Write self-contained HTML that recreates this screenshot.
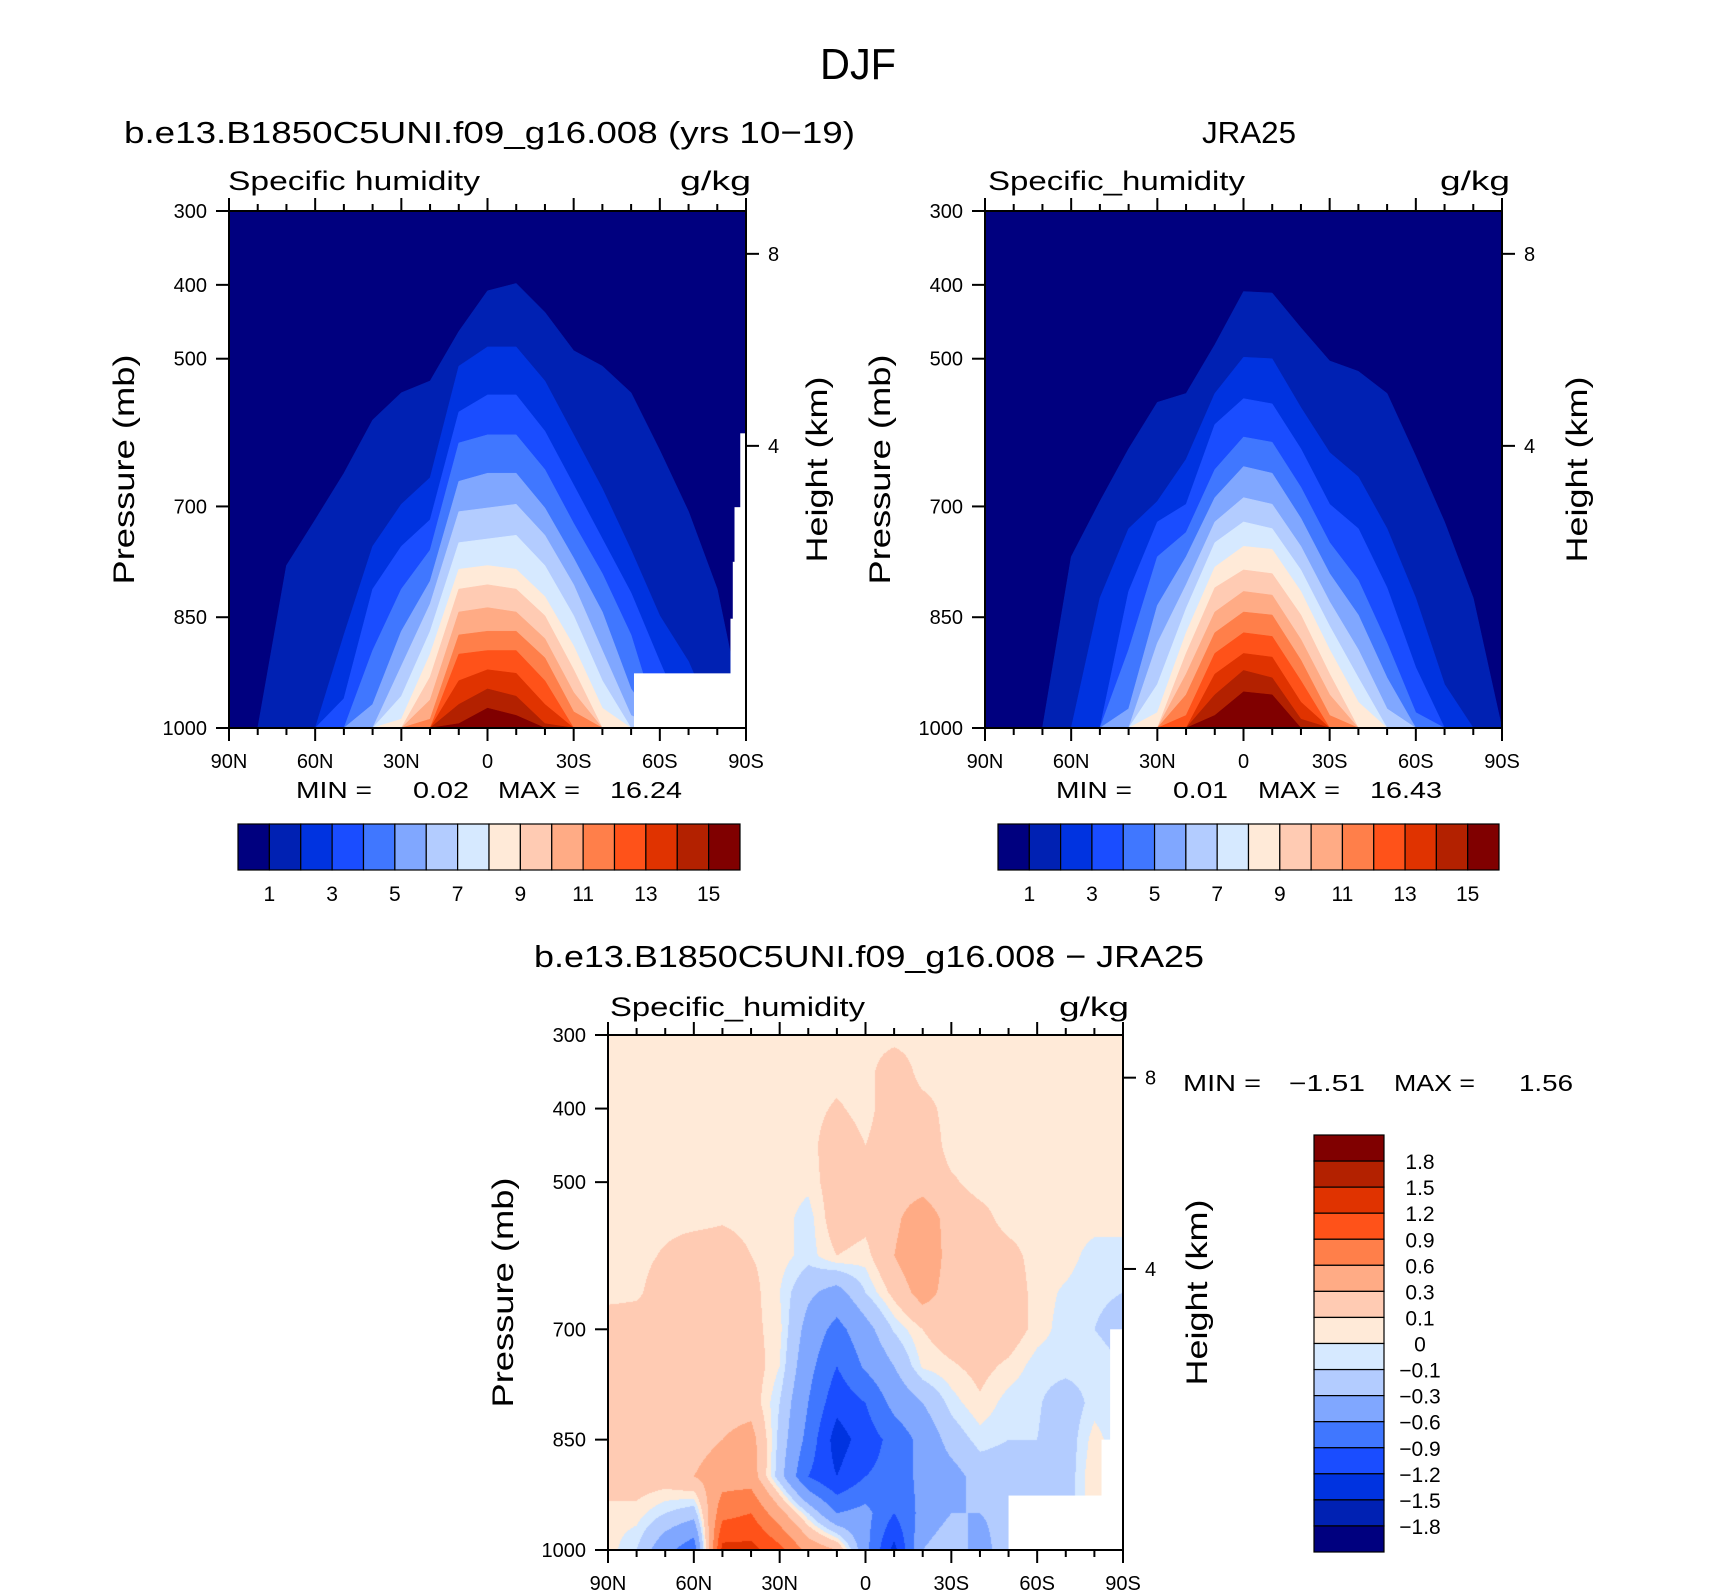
<!DOCTYPE html>
<html><head><meta charset="utf-8">
<style>
html,body{margin:0;padding:0;background:#fff;}
#wrap{position:relative;width:1710px;height:1596px;overflow:hidden;}
#wrap canvas{position:absolute;left:608px;top:1035px;}
svg{position:absolute;left:0;top:0;}
text{font-family:"Liberation Sans",sans-serif;fill:#000;}
</style></head>
<body>
<div id="wrap">
<svg id="svg" width="1710" height="1596" viewBox="0 0 1710 1596">
<g id="fillL"></g>
<g id="fillR"></g>
<g id="fillB"></g>
<g id="axes"></g>
<text x="858" y="79" font-size="44" text-anchor="middle" textLength="76" lengthAdjust="spacingAndGlyphs">DJF</text>
<text x="124" y="143" font-size="31" textLength="731" lengthAdjust="spacingAndGlyphs">b.e13.B1850C5UNI.f09_g16.008 (yrs 10−19)</text>
<text x="1202" y="143" font-size="31" textLength="94" lengthAdjust="spacingAndGlyphs">JRA25</text>
<text x="228" y="190" font-size="27" textLength="252" lengthAdjust="spacingAndGlyphs">Specific humidity</text>
<text x="680" y="190" font-size="27" textLength="71" lengthAdjust="spacingAndGlyphs">g/kg</text>
<text x="988" y="190" font-size="27" textLength="257" lengthAdjust="spacingAndGlyphs">Specific_humidity</text>
<text x="1440" y="190" font-size="27" textLength="70" lengthAdjust="spacingAndGlyphs">g/kg</text>
<text x="296" y="798" font-size="23" textLength="76" lengthAdjust="spacingAndGlyphs">MIN =</text>
<text x="413" y="798" font-size="23" textLength="56" lengthAdjust="spacingAndGlyphs">0.02</text>
<text x="498" y="798" font-size="23" textLength="82" lengthAdjust="spacingAndGlyphs">MAX =</text>
<text x="610" y="798" font-size="23" textLength="72" lengthAdjust="spacingAndGlyphs">16.24</text>
<text x="1056" y="798" font-size="23" textLength="76" lengthAdjust="spacingAndGlyphs">MIN =</text>
<text x="1173" y="798" font-size="23" textLength="55" lengthAdjust="spacingAndGlyphs">0.01</text>
<text x="1258" y="798" font-size="23" textLength="82" lengthAdjust="spacingAndGlyphs">MAX =</text>
<text x="1370" y="798" font-size="23" textLength="72" lengthAdjust="spacingAndGlyphs">16.43</text>
<text x="534" y="967" font-size="31" textLength="670" lengthAdjust="spacingAndGlyphs">b.e13.B1850C5UNI.f09_g16.008 − JRA25</text>
<text x="610" y="1016" font-size="27" textLength="255" lengthAdjust="spacingAndGlyphs">Specific_humidity</text>
<text x="1059" y="1016" font-size="27" textLength="70" lengthAdjust="spacingAndGlyphs">g/kg</text>
<text x="1183" y="1091" font-size="23" textLength="78" lengthAdjust="spacingAndGlyphs">MIN =</text>
<text x="1289" y="1091" font-size="23" textLength="76" lengthAdjust="spacingAndGlyphs">−1.51</text>
<text x="1394" y="1091" font-size="23" textLength="81" lengthAdjust="spacingAndGlyphs">MAX =</text>
<text x="1519" y="1091" font-size="23" textLength="54" lengthAdjust="spacingAndGlyphs">1.56</text>
<g id="cbars"></g>
</svg>
</div>
<script>
// ---------- data ----------
const lats = [90,80,70,60,50,40,30,20,10,0,-10,-20,-30,-40,-50,-60,-70,-80,-90];
const qLevels = [1,2,3,4,5,6,7,8,9,10,11,12,13,14,15];
const qLevelLabels = ["1","3","5","7","9","11","13","15"];
const diffLevels = [-1.8,-1.5,-1.2,-0.9,-0.6,-0.3,-0.1,0,0.1,0.3,0.6,0.9,1.2,1.5,1.8];
const diffLevelLabels = ["-1.8","-1.5","-1.2","-0.9","-0.6","-0.3","-0.1","0","0.1","0.3","0.6","0.9","1.2","1.5","1.8"];
const pressureTicks = [300,400,500,700,850,1000];
const heightTicksKm = [8,4];
const heightTickPressure = [358,618];
const latTickLabels = ["90N","60N","30N","0","30S","60S","90S"];
const latTickValues = [90,60,30,0,-30,-60,-90];
const colors = ["#00007f","#0021b3","#0033e0","#1a4dff","#4077ff","#80a7ff","#b3ccff","#d6e9ff","#ffead8","#ffcbb3","#ffab85","#ff7f4a","#ff5219","#e03300","#b32100","#800000"];

// top pressure (mb) of region where q >= level, per latitude (1000 = absent)
const modelTop1  = [1000,1000,780,718,655,583,546,530,463,408,398,437,489,510,546,624,707,812,1000];
const modelTop2  = [1000,1000,1000,1000,874,754,697,661,510,484,484,530,603,676,759,848,910,1000,1000];
const modelTop3  = [1000,1000,1000,1000,960,812,754,718,572,549,549,598,671,744,817,910,1000,1000,1000];
const modelTop4  = [1000,1000,1000,1000,1000,895,812,759,614,603,603,650,723,791,874,1000,1000,1000,1000];
const modelTop5  = [1000,1000,1000,1000,1000,968,869,801,666,655,655,702,770,843,947,1000,1000,1000,1000];
const modelTop6  = [1000,1000,1000,1000,1000,1000,916,832,707,702,697,739,806,895,983,1000,1000,1000,1000];
const modelTop7  = [1000,1000,1000,1000,1000,1000,957,869,749,744,739,780,848,936,1000,1000,1000,1000,1000];
const modelTop8  = [1000,1000,1000,1000,1000,1000,988,900,785,780,785,822,889,973,1000,1000,1000,1000,1000];
const modelTop9  = [1000,1000,1000,1000,1000,1000,1000,931,812,806,812,848,921,1000,1000,1000,1000,1000,1000];
const modelTop10 = [1000,1000,1000,1000,1000,1000,1000,962,843,837,843,879,952,1000,1000,1000,1000,1000,1000];
const modelTop11 = [1000,1000,1000,1000,1000,1000,1000,988,874,869,869,905,978,1000,1000,1000,1000,1000,1000];
const modelTop12 = [1000,1000,1000,1000,1000,1000,1000,1000,900,895,895,936,1000,1000,1000,1000,1000,1000,1000];
const modelTop13 = [1000,1000,1000,1000,1000,1000,1000,1000,936,921,926,968,1000,1000,1000,1000,1000,1000,1000];
const modelTop14 = [1000,1000,1000,1000,1000,1000,1000,1000,968,947,957,994,1000,1000,1000,1000,1000,1000,1000];
const modelTop15 = [1000,1000,1000,1000,1000,1000,1000,1000,994,973,983,1000,1000,1000,1000,1000,1000,1000,1000];

const jraTop1  = [1000,1000,1000,768,693,622,559,547,481,409,411,458,503,517,547,632,721,824,1000];
const jraTop2  = [1000,1000,1000,1000,824,730,693,636,547,498,500,566,627,660,730,824,941,1000,1000];
const jraTop3  = [1000,1000,1000,1000,1000,815,721,697,589,554,561,622,697,730,810,918,1000,1000,1000];
const jraTop4  = [1000,1000,1000,1000,1000,894,768,735,650,606,613,674,749,800,885,979,1000,1000,1000];
const jraTop5  = [1000,1000,1000,1000,1000,974,834,768,688,646,655,716,791,847,932,1000,1000,1000,1000];
const jraTop6  = [1000,1000,1000,1000,1000,1000,885,806,721,688,697,754,829,894,974,1000,1000,1000,1000];
const jraTop7  = [1000,1000,1000,1000,1000,1000,941,838,749,721,730,786,862,932,1000,1000,1000,1000,1000];
const jraTop8  = [1000,1000,1000,1000,1000,1000,979,871,782,754,758,815,894,965,1000,1000,1000,1000,1000];
const jraTop9  = [1000,1000,1000,1000,1000,1000,1000,899,810,786,791,847,927,1000,1000,1000,1000,1000,1000];
const jraTop10 = [1000,1000,1000,1000,1000,1000,1000,927,843,815,820,880,955,1000,1000,1000,1000,1000,1000];
const jraTop11 = [1000,1000,1000,1000,1000,1000,1000,955,871,843,847,908,983,1000,1000,1000,1000,1000,1000];
const jraTop12 = [1000,1000,1000,1000,1000,1000,1000,983,899,871,876,936,1000,1000,1000,1000,1000,1000,1000];
const jraTop13 = [1000,1000,1000,1000,1000,1000,1000,1000,927,899,904,965,1000,1000,1000,1000,1000,1000,1000];
const jraTop14 = [1000,1000,1000,1000,1000,1000,1000,1000,955,922,932,988,1000,1000,1000,1000,1000,1000,1000];
const jraTop15 = [1000,1000,1000,1000,1000,1000,1000,1000,983,951,955,1000,1000,1000,1000,1000,1000,1000,1000];

// difference field (g/kg) rows at these pressures, columns at lats
const diffPressures = [300,350,400,450,500,550,600,650,700,750,800,850,900,950,1000];
const diffRow300  = [0.05,0.05,0.05,0.05,0.05,0.05,0.05,0.05,0.05,0.05,0.05,0.05,0.05,0.05,0.05,0.05,0.05,0.05,0.05];
const diffRow350  = [0.05,0.05,0.05,0.05,0.05,0.05,0.05,0.05,0.05,0.05,0.2,0.05,0.05,0.05,0.05,0.05,0.05,0.05,0.05];
const diffRow400  = [0.05,0.05,0.05,0.05,0.05,0.05,0.05,0.05,0.12,0.05,0.2,0.15,0.05,0.05,0.05,0.05,0.05,0.05,0.05];
const diffRow450  = [0.05,0.05,0.05,0.05,0.05,0.05,0.05,0.05,0.2,0.1,0.2,0.2,0.05,0.05,0.05,0.05,0.05,0.05,0.05];
const diffRow500  = [0.05,0.05,0.05,0.05,0.05,0.05,0.05,0.03,0.2,0.2,0.2,0.2,0.12,0.05,0.05,0.05,0.05,0.05,0.05];
const diffRow550  = [0.05,0.05,0.05,0.05,0.08,0.05,0.05,-0.05,0.2,0.15,0.25,0.45,0.2,0.15,0.05,0.05,0.05,0.05,0.05];
const diffRow600  = [0.05,0.05,0.12,0.2,0.2,0.1,0.05,-0.05,0.1,0.05,0.3,0.5,0.2,0.2,0.15,0.05,0.05,-0.05,-0.05];
const diffRow650  = [0.05,0.07,0.2,0.2,0.2,0.15,0.0,-0.25,-0.4,-0.1,0.15,0.4,0.2,0.2,0.2,0.05,-0.02,-0.08,-0.1];
const diffRow700  = [0.2,0.2,0.2,0.2,0.2,0.15,0.03,-0.4,-0.7,-0.4,-0.08,0.1,0.2,0.2,0.2,0.05,-0.05,-0.1,-0.15];
const diffRow750  = [0.2,0.2,0.2,0.2,0.2,0.2,0.0,-0.5,-0.9,-0.55,-0.3,0.02,0.08,0.15,0.07,-0.05,-0.05,-0.05,-0.1];
const diffRow800  = [0.2,0.2,0.2,0.2,0.2,0.2,-0.1,-0.6,-1.1,-0.9,-0.5,-0.3,-0.05,0.08,-0.05,-0.08,-0.2,-0.05,-0.1];
const diffRow850  = [0.2,0.2,0.2,0.2,0.3,0.4,-0.15,-0.7,-1.35,-1.05,-0.8,-0.5,-0.2,-0.05,-0.1,-0.1,-0.2,0.05,-0.1];
const diffRow900  = [0.2,0.2,0.2,0.3,0.45,0.45,-0.2,-0.9,-1.2,-0.9,-0.8,-0.5,-0.4,-0.2,-0.2,-0.2,-0.2,0.1,-0.1];
const diffRow950  = [0.05,0.05,-0.1,-0.2,0.8,0.9,0.4,-0.1,-0.6,-0.5,-0.9,-0.5,-0.3,-0.3,-0.2,-0.2,-0.2,0.1,-0.1];
const diffRow1000 = [0.05,-0.1,-0.5,-0.8,1.3,1.3,1.0,0.5,0.3,-0.5,-1.3,-0.3,-0.1,-0.45,-0.1,-0.2,-0.2,0.1,-0.1];

// missing-data regions: [latitude where white starts (to 90S), top pressure]
const modelMissingLat = [-51,-84.6,-85.4,-86,-88];
const modelMissingP   = [926,852,775,701,601];
const diffMissingLat  = [-50,-82.5,-85.5];
const diffMissingP    = [926,850,700];

const modelTops = [modelTop1,modelTop2,modelTop3,modelTop4,modelTop5,modelTop6,modelTop7,modelTop8,modelTop9,modelTop10,modelTop11,modelTop12,modelTop13,modelTop14,modelTop15];
const jraTops = [jraTop1,jraTop2,jraTop3,jraTop4,jraTop5,jraTop6,jraTop7,jraTop8,jraTop9,jraTop10,jraTop11,jraTop12,jraTop13,jraTop14,jraTop15];
const diffRows = [diffRow300,diffRow350,diffRow400,diffRow450,diffRow500,diffRow550,diffRow600,diffRow650,diffRow700,diffRow750,diffRow800,diffRow850,diffRow900,diffRow950,diffRow1000];

// ---------- drawing ----------
const NS = "http://www.w3.org/2000/svg";
const svg = document.getElementById("svg");
const plots = {
  L:{x0:229,y0:211,w:517,h:517,name:"model"},
  R:{x0:985,y0:211,w:517,h:517,name:"jra25"},
  B:{x0:608,y0:1035,w:515,h:515,name:"difference"}
};
function xS(pl,lat){return pl.x0+(90-lat)/180*pl.w;}
function yS(pl,p){return pl.y0+(p-300)/700*pl.h;}
function mk(tag,attrs,parent){const e=document.createElementNS(NS,tag);for(const k in attrs)e.setAttribute(k,attrs[k]);parent.appendChild(e);return e;}

function drawQ(pl,tops,gid){
  const g=document.getElementById(gid);
  const bg=mk("rect",{x:pl.x0,y:pl.y0,width:pl.w,height:pl.h,fill:colors[0]},g);
  
  
  tops.forEach((arr,k)=>{
    let d="M"+xS(pl,90)+","+yS(pl,1000);
    arr.forEach((p,i)=>{d+=" L"+xS(pl,lats[i]).toFixed(1)+","+yS(pl,p).toFixed(1);});
    d+=" L"+xS(pl,-90)+","+yS(pl,1000)+" Z";
    const path=mk("path",{d:d,fill:colors[k+1],stroke:colors[k+1],"stroke-width":0.5,"stroke-linejoin":"round"},g);
    
    
  });
}
function drawMissing(pl,latsM,ps,gid){
  const g=document.getElementById(gid);
  latsM.forEach((la,i)=>{
    const x=xS(pl,la), y=yS(pl,ps[i]);
    const r=mk("rect",{x:x,y:y,width:pl.x0+pl.w-x,height:pl.y0+pl.h-y,fill:"#fff"},g);
    
    
  });
}
drawQ(plots.L,modelTops,"fillL");
drawMissing(plots.L,modelMissingLat,modelMissingP,"fillL");
drawQ(plots.R,jraTops,"fillR");

// difference field via canvas
(function(){
  const pl=plots.B;
  const cv=document.createElement("canvas");
  cv.width=pl.w; cv.height=pl.h;
  
  
  document.getElementById("wrap").insertBefore(cv,svg);
  const ctx=cv.getContext("2d");
  const img=ctx.createImageData(pl.w,pl.h);
  const rgb=colors.map(c=>[parseInt(c.slice(1,3),16),parseInt(c.slice(3,5),16),parseInt(c.slice(5,7),16)]);
  const nc=lats.length, nr=diffPressures.length;
  for(let py=0;py<pl.h;py++){
    const p=300+(py+0.5)/pl.h*700;
    let r=0; while(r<nr-2 && diffPressures[r+1]<p) r++;
    const fy=Math.min(1,Math.max(0,(p-diffPressures[r])/(diffPressures[r+1]-diffPressures[r])));
    for(let px=0;px<pl.w;px++){
      const lat=90-(px+0.5)/pl.w*180;
      const fc=(90-lat)/10; let c=Math.min(nc-2,Math.floor(fc)); const fx=fc-c;
      const v=(1-fy)*((1-fx)*diffRows[r][c]+fx*diffRows[r][c+1])+fy*((1-fx)*diffRows[r+1][c]+fx*diffRows[r+1][c+1]);
      let k=0; while(k<diffLevels.length && v>=diffLevels[k]) k++;
      const o=(py*pl.w+px)*4; img.data[o]=rgb[k][0];img.data[o+1]=rgb[k][1];img.data[o+2]=rgb[k][2];img.data[o+3]=255;
    }
  }
  ctx.putImageData(img,0,0);
})();
drawMissing(plots.B,diffMissingLat,diffMissingP,"fillB");

// axes
const ax=document.getElementById("axes");
function txt(x,y,s,size,anchor,name,rot,len){
  const t=mk("text",{x:x,y:y,"font-size":size,"text-anchor":anchor||"start"},ax);
  if(rot) t.setAttribute("transform","rotate(-90 "+x+" "+y+")");
  if(len){t.setAttribute("textLength",len);t.setAttribute("lengthAdjust","spacingAndGlyphs");}
  t.textContent=s;
  
  
  return t;
}
function line(x1,y1,x2,y2,name){
  const l=mk("line",{x1:x1,y1:y1,x2:x2,y2:y2,stroke:"#000","stroke-width":2},ax);
  
  
}
function drawAxes(pl,yTitleX,hTitleX){
  const n=pl.name;
  const fr=mk("rect",{x:pl.x0,y:pl.y0,width:pl.w,height:pl.h,fill:"none",stroke:"#000","stroke-width":2},ax);
  
  
  pressureTicks.forEach(p=>{
    const y=yS(pl,p);
    line(pl.x0-13,y,pl.x0,y,n+'-pressure-tick');
    txt(pl.x0-22,y+7,String(p),20,"end",n+'-pressure-tick-label');
  });
  heightTicksKm.forEach((h,i)=>{
    const y=yS(pl,heightTickPressure[i]);
    line(pl.x0+pl.w,y,pl.x0+pl.w+13,y,n+'-height-tick');
    txt(pl.x0+pl.w+22,y+7,String(h),20,"start",n+'-height-tick-label');
  });
  for(let la=90;la>=-90;la-=10){
    const x=xS(pl,la), major=(la%30===0);
    line(x,pl.y0,x,pl.y0-(major?13:7),n+'-top-lat-tick');
    line(x,pl.y0+pl.h,x,pl.y0+pl.h+(major?13:7),n+'-bottom-lat-tick');
  }
  latTickValues.forEach((la,i)=>{
    txt(xS(pl,la),pl.y0+pl.h+40,latTickLabels[i],20,"middle",n+'-lat-tick-label');
  });
  txt(yTitleX,pl.y0+pl.h/2,"Pressure (mb)",30,"middle",n+'-y-axis-title',true,230);
  txt(hTitleX,pl.y0+pl.h/2,"Height (km)",30,"middle",n+'-height-axis-title',true,186);
}
drawAxes(plots.L,134,827);
drawAxes(plots.R,890,1587);
drawAxes(plots.B,513,1207);

// colorbars
const cb=document.getElementById("cbars");
function hbar(x0,y0,w,h,name){
  const bw=w/16;
  colors.forEach((c,k)=>{
    const r=mk("rect",{x:x0+k*bw,y:y0,width:bw,height:h,fill:c,stroke:"#000","stroke-width":1.2},cb);
    
    
  });
  qLevelLabels.forEach((s,j)=>{
    const k=2*j+1;
    const t=mk("text",{x:x0+k*bw,y:y0+h+31,"font-size":21,"text-anchor":"middle"},cb);
    t.textContent=s;
    
    
  });
}
hbar(238,824,502,46,"model-colorbar");
hbar(998,824,501,46,"jra25-colorbar");
(function(){
  const x0=1314,y0=1135,w=70,h=417,bh=h/16;
  colors.slice().reverse().forEach((c,k)=>{
    const r=mk("rect",{x:x0,y:y0+k*bh,width:w,height:bh,fill:c,stroke:"#000","stroke-width":1.2},cb);
    
    
  });
  diffLevelLabels.slice().reverse().forEach((s,k)=>{
    const t=mk("text",{x:1420,y:y0+(k+1)*bh+8,"font-size":21,"text-anchor":"middle"},cb);
    t.textContent=s.replace("-","−");
    
    
  });
})();
</script>
</body></html>
